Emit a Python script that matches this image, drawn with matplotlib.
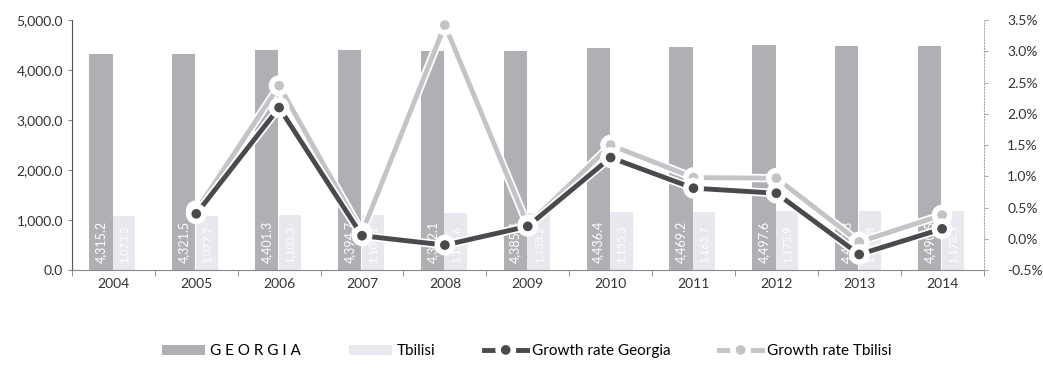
import matplotlib.pyplot as plt
import matplotlib.patheffects as pe
import numpy as np

plt.rcParams['font.family'] = ['Lato', 'DejaVu Sans']

years = ['2004', '2005', '2006', '2007', '2008', '2009', '2010', '2011', '2012', '2013', '2014']
georgia = [4315.2, 4321.5, 4401.3, 4394.7, 4382.1, 4385.4, 4436.4, 4469.2, 4497.6, 4483.8, 4490.5]
tbilisi = [1073.3, 1077.7, 1103.3, 1104.1, 1136.6, 1138.2, 1155.3, 1165.7, 1175.9, 1174.8, 1178.5]
growth_georgia = [np.nan, 0.40, 2.10, 0.05, -0.10, 0.20, 1.30, 0.81, 0.73, -0.25, 0.16]
growth_tbilisi = [np.nan, 0.45, 2.45, 0.10, 3.42, 0.22, 1.50, 0.98, 0.97, -0.05, 0.38]

x = np.arange(len(years))

fig = plt.figure(figsize=(10.43, 3.72), dpi=100)
ax = fig.add_axes([0.069, 0.274, 0.874, 0.672])

# bars
b1 = ax.bar(x - 0.15, georgia, width=0.28, color='#b0b0b4')
b2 = ax.bar(x + 0.13, tbilisi, width=0.27, color='#e8e8ee')

for i in range(len(years)):
    ax.text(x[i] - 0.15, 150, f'{georgia[i]:,.1f}', rotation=90, color='white',
            ha='center', va='bottom', fontsize=9)
    ax.text(x[i] + 0.13, 150, f'{tbilisi[i]:,.1f}', rotation=90, color='white',
            ha='center', va='bottom', fontsize=8)

ax.set_xlim(-0.5, len(years) - 0.5)
ax.set_ylim(0, 5000)
ax.set_yticks(np.arange(0, 5001, 1000))
ax.set_yticklabels([f'{v:,.1f}' for v in np.arange(0, 5001, 1000)], fontsize=10, color='#333333')
ax.set_xticks(x)
ax.set_xticklabels(years, fontsize=10, color='#333333')
ax.set_xticks(np.arange(-0.5, len(years), 1), minor=True)
ax.tick_params(axis='x', which='major', length=0, pad=6)
ax.tick_params(axis='x', which='minor', length=4, color='#888888')
ax.tick_params(axis='y', length=3, color='#888888')
ax.spines['top'].set_visible(False)
ax.spines['right'].set_visible(False)
ax.spines['left'].set_color('#555555')
ax.spines['bottom'].set_color('#888888')

# growth rate lines
ax2 = ax.twinx()
outline = [pe.Stroke(linewidth=6, foreground='white'), pe.Normal()]
l2, = ax2.plot(x, growth_tbilisi, color='#c4c4c8', lw=3.5, marker='o', markersize=9,
               markerfacecolor='#c4c4c8', markeredgecolor='white', markeredgewidth=2,
               path_effects=outline)
l1, = ax2.plot(x, growth_georgia, color='#4a4a4e', lw=3.5, marker='o', markersize=9,
               markerfacecolor='#4a4a4e', markeredgecolor='white', markeredgewidth=2,
               path_effects=outline)
ax2.set_ylim(-0.5, 3.5)
ax2.set_yticks(np.arange(-0.5, 3.51, 0.5))
ax2.set_yticklabels([f'{v:.1f}%' for v in np.arange(-0.5, 3.51, 0.5)], fontsize=10, color='#333333')
ax2.tick_params(axis='y', length=3, color='#aaaaaa', pad=14)
ax2.spines['top'].set_visible(False)
ax2.spines['left'].set_visible(False)
ax2.spines['bottom'].set_visible(False)
ax2.spines['right'].set_color('#aaaaaa')
ax2.spines['right'].set_linestyle(':')

fig.legend([b1, b2, l1, l2], ['G E O R G I A', 'Tbilisi', 'Growth rate Georgia', 'Growth rate Tbilisi'],
           loc='lower center', bbox_to_anchor=(0.505, 0.0), ncol=4, frameon=False,
           fontsize=11, handlelength=2.8, columnspacing=3.2, handletextpad=0.3)

fig.savefig('out.png', dpi=100)
